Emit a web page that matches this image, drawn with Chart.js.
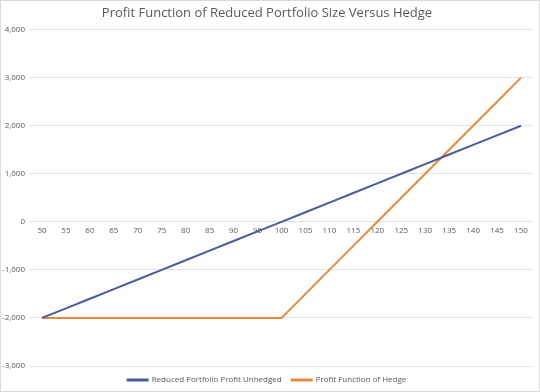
<!DOCTYPE html>
<html>
<head>
<meta charset="utf-8">
<script src="https://cdn.jsdelivr.net/npm/chart.js@4"></script>
<style>
    html, body { margin: 0; padding: 0; background: #fff; }
    #wrap { width: 538px; height: 390px; border: 1px solid #d9d9d9; }
</style>
</head>
<body>
<div id="wrap"><canvas id="myChart" width="538" height="390"></canvas></div>
<script>
// Portfolio size categories (x axis)
var sizes = ['50', '55', '60', '65', '70', '75', '80', '85', '90', '95', '100',
             '105', '110', '115', '120', '125', '130', '135', '140', '145', '150'];

// Reduced portfolio profit, unhedged
var unhedged = [-2000, -1800, -1600, -1400, -1200, -1000, -800, -600, -400, -200, 0,
                200, 400, 600, 800, 1000, 1200, 1400, 1600, 1800, 2000];

// Profit function of hedge
var hedge = [-2000, -2000, -2000, -2000, -2000, -2000, -2000, -2000, -2000, -2000, -2000,
             -1500, -1000, -500, 0, 500, 1000, 1500, 2000, 2500, 3000];

var textColor = '#595959';
var gridColor = '#e3e3e3';
var tickFont = { family: 'Liberation Sans Narrow, Open Sans', size: 8 };

var ctx = document.getElementById('myChart').getContext('2d');
var myChart = new Chart(ctx, {
    type: 'line',
    data: {
        labels: sizes,
        datasets: [{
            label: 'Reduced Portfolio Profit Unhedged',
            data: unhedged,
            borderColor: '#4a5a9c',
            backgroundColor: '#4a5a9c',
            borderWidth: 2,
            pointRadius: 0,
            tension: 0
        }, {
            label: 'Profit Function of Hedge',
            data: hedge,
            borderColor: '#e58a3c',
            backgroundColor: '#e58a3c',
            borderWidth: 2,
            pointRadius: 0,
            tension: 0
        }]
    },
    options: {
        responsive: false,
        animation: false,
        layout: { padding: { left: 0, right: 6, top: 0, bottom: -3 } },
        plugins: {
            title: {
                display: true,
                text: 'Profit Function of Reduced Portfolio Size Versus Hedge',
                color: textColor,
                font: { family: 'Open Sans', size: 13, weight: 'normal' },
                padding: { top: 4, bottom: 9 }
            },
            legend: {
                position: 'bottom',
                labels: {
                    color: textColor,
                    font: { family: 'Open Sans', size: 8 },
                    boxWidth: 20,
                    boxHeight: 1,
                    padding: 10
                }
            },
            tooltip: { enabled: false }
        },
        scales: {
            x: {
                position: { y: 0 },
                offset: true,
                grid: { display: false, drawTicks: false },
                border: { display: false },
                ticks: {
                    color: textColor,
                    font: tickFont,
                    maxRotation: 0,
                    autoSkip: false,
                    padding: 4
                }
            },
            y: {
                min: -3000,
                max: 4000,
                grid: { color: gridColor, drawTicks: false },
                border: { display: false },
                afterFit: function(scale) { scale.width = 29; },
                ticks: {
                    stepSize: 1000,
                    color: textColor,
                    font: tickFont,
                    padding: 5,
                    callback: function(v) { return v.toLocaleString('en-US'); }
                }
            }
        }
    }
});
</script>
</body>
</html>
